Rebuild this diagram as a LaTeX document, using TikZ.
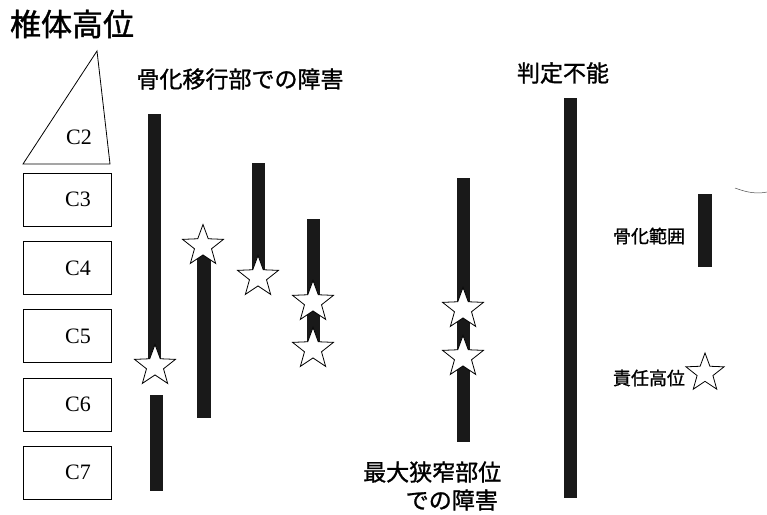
\documentclass[tikz,border=0pt]{standalone}
\usepackage{fontspec}
\setmainfont{Liberation Serif}
\newfontfamily\jfont[FakeBold=1.2]{Noto Sans CJK JP}
\usetikzlibrary{shapes.geometric}
\tikzset{
  vbox/.style={draw, line width=0.8pt, minimum width=88pt, minimum height=53pt, inner sep=0pt, font=\fontsize{22}{22}\selectfont},
  bar/.style={fill=black!90},
  starmark/.style={star, star points=5, star point ratio=2.4, draw, fill=white, line width=0.8pt, inner sep=0pt, minimum size=43pt},
  smallstar/.style={starmark, minimum size=40pt},
  jlab/.style={font=\jfont\fontsize{23}{23}\selectfont, inner sep=0pt},
  jsmall/.style={font=\jfont\fontsize{18}{18}\selectfont, inner sep=0pt}
}
\begin{document}
\begin{tikzpicture}[x=1pt,y=-1pt]
\useasboundingbox[fill=white] (0,0) rectangle (767,514);
% title
\node[inner sep=0pt, font=\jfont\fontsize{31}{31}\selectfont] (title) at (72,24) {椎体高位};
% vertebrae
\draw[line width=0.8pt] (97,51) -- (23,164) -- (110,164) -- cycle;
\node[font=\fontsize{22}{22}\selectfont, inner sep=0pt] (c2) at (79,137) {C2};
\node[vbox] (c3) at (67,199.5) {\hspace*{22pt}C3};
\node[vbox] (c4) at (67,268) {\hspace*{22pt}C4};
\node[vbox] (c5) at (67,336) {\hspace*{22pt}C5};
\node[vbox] (c6) at (67,404.5) {\hspace*{22pt}C6};
\node[vbox] (c7) at (67,472.5) {\hspace*{22pt}C7};
% labels
\node[jlab] (l1) at (240,79) {骨化移行部での障害};
\node[jlab] (l2) at (563,73) {判定不能};
\node[jlab, anchor=west] (l3) at (363,472) {最大狭窄部位};
\node[jlab, anchor=east] (l4) at (498,500) {での障害};
\node[jsmall] (l5) at (649,236) {骨化範囲};
\node[jsmall] (l6) at (649,378) {責任高位};
% bars
\fill[bar] (148,114) rectangle (161,362);
\fill[bar] (150,395) rectangle (163,491);
\fill[bar] (197,250) rectangle (211,418);
\fill[bar] (252,163) rectangle (265,272);
\fill[bar] (307,219) rectangle (320,345);
\fill[bar] (457,178) rectangle (470,442);
\fill[bar] (564,98) rectangle (577,498);
\fill[bar] (698,194) rectangle (712,267);
% stars
\node[starmark] (s1) at (155,366) {};
\node[starmark] (s2) at (203,246) {};
\node[starmark] (s3) at (258,277) {};
\node[starmark] (s4) at (313,302) {};
\node[starmark] (s5) at (313,349) {};
\node[starmark] (s6) at (463,309) {};
\node[starmark] (s7) at (463,357) {};
\node[smallstar] (s8) at (705,373) {};
% stray arc
\draw[line width=0.5pt, black!70] (735,188) .. controls (748,193) and (758,194) .. (767,192);
\end{tikzpicture}
\end{document}
